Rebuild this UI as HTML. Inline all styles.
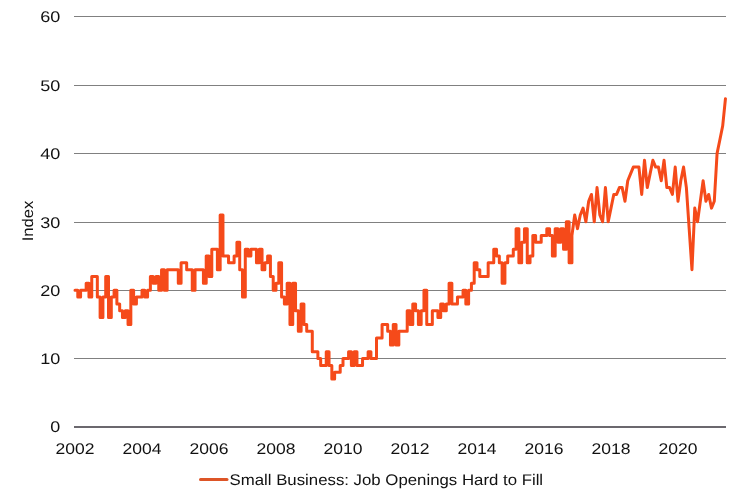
<!DOCTYPE html>
<html><head><meta charset="utf-8"><style>
html,body{margin:0;padding:0;background:#fff;width:740px;height:501px;overflow:hidden}
svg{display:block}
.t{font-family:"Liberation Sans",sans-serif;font-size:15.4px;fill:#111;text-rendering:geometricPrecision}
svg{will-change:transform}
</style></head><body>
<svg width="740" height="501" viewBox="0 0 740 501">
<rect x="74" y="16" width="652" height="1" fill="#808080"/>
<rect x="74" y="85" width="652" height="1" fill="#808080"/>
<rect x="74" y="153" width="652" height="1" fill="#808080"/>
<rect x="74" y="222" width="652" height="1" fill="#808080"/>
<rect x="74" y="290" width="652" height="1" fill="#808080"/>
<rect x="74" y="358" width="652" height="1" fill="#808080"/>
<rect x="74" y="426" width="652" height="2" fill="#6b686e"/>
<text x="60.3" y="21.9" text-anchor="end" textLength="20.1" lengthAdjust="spacingAndGlyphs" class="t">60</text>
<text x="60.3" y="90.9" text-anchor="end" textLength="20.1" lengthAdjust="spacingAndGlyphs" class="t">50</text>
<text x="60.3" y="158.9" text-anchor="end" textLength="20.1" lengthAdjust="spacingAndGlyphs" class="t">40</text>
<text x="60.3" y="227.9" text-anchor="end" textLength="20.1" lengthAdjust="spacingAndGlyphs" class="t">30</text>
<text x="60.3" y="295.9" text-anchor="end" textLength="20.1" lengthAdjust="spacingAndGlyphs" class="t">20</text>
<text x="60.3" y="363.9" text-anchor="end" textLength="20.1" lengthAdjust="spacingAndGlyphs" class="t">10</text>
<text x="60.3" y="432.4" text-anchor="end" textLength="10.0" lengthAdjust="spacingAndGlyphs" class="t">0</text>
<text x="75" y="453.8" text-anchor="middle" textLength="39" lengthAdjust="spacingAndGlyphs" class="t">2002</text>
<text x="142" y="453.8" text-anchor="middle" textLength="39" lengthAdjust="spacingAndGlyphs" class="t">2004</text>
<text x="209" y="453.8" text-anchor="middle" textLength="39" lengthAdjust="spacingAndGlyphs" class="t">2006</text>
<text x="276" y="453.8" text-anchor="middle" textLength="39" lengthAdjust="spacingAndGlyphs" class="t">2008</text>
<text x="343" y="453.8" text-anchor="middle" textLength="39" lengthAdjust="spacingAndGlyphs" class="t">2010</text>
<text x="410" y="453.8" text-anchor="middle" textLength="39" lengthAdjust="spacingAndGlyphs" class="t">2012</text>
<text x="477" y="453.8" text-anchor="middle" textLength="39" lengthAdjust="spacingAndGlyphs" class="t">2014</text>
<text x="544" y="453.8" text-anchor="middle" textLength="39" lengthAdjust="spacingAndGlyphs" class="t">2016</text>
<text x="611" y="453.8" text-anchor="middle" textLength="39" lengthAdjust="spacingAndGlyphs" class="t">2018</text>
<text x="678" y="453.8" text-anchor="middle" textLength="39" lengthAdjust="spacingAndGlyphs" class="t">2020</text>
<text transform="translate(33,221) rotate(-90)" text-anchor="middle" textLength="40.6" lengthAdjust="spacingAndGlyphs" class="t">Index</text>
<path d="M75.00,290.20 L77.79,290.20 L77.79,297.04 L80.58,297.04 L80.58,290.20 L83.38,290.20 L86.17,290.20 L86.17,283.36 L88.96,283.36 L88.96,297.04 L91.75,297.04 L91.75,276.52 L94.54,276.52 L97.33,276.52 L97.33,297.04 L100.12,297.04 L100.12,317.56 L102.92,317.56 L102.92,297.04 L105.71,297.04 L105.71,276.52 L108.50,276.52 L108.50,317.56 L111.29,317.56 L111.29,297.04 L114.08,297.04 L114.08,290.20 L116.88,290.20 L116.88,303.88 L119.67,303.88 L119.67,310.72 L122.46,310.72 L122.46,317.56 L125.25,317.56 L125.25,310.72 L128.04,310.72 L128.04,324.40 L130.83,324.40 L130.83,290.20 L133.62,290.20 L133.62,303.88 L136.42,303.88 L136.42,297.04 L139.21,297.04 L142.00,297.04 L142.00,290.20 L144.79,290.20 L144.79,297.04 L147.58,297.04 L147.58,290.20 L150.38,290.20 L150.38,276.52 L153.17,276.52 L153.17,283.36 L155.96,283.36 L155.96,276.52 L158.75,276.52 L158.75,290.20 L161.54,290.20 L161.54,269.68 L164.33,269.68 L164.33,290.20 L167.12,290.20 L167.12,269.68 L169.92,269.68 L172.71,269.68 L175.50,269.68 L178.29,269.68 L178.29,283.36 L181.08,283.36 L181.08,262.84 L183.88,262.84 L186.67,262.84 L186.67,269.68 L189.46,269.68 L192.25,269.68 L192.25,290.20 L195.04,290.20 L195.04,269.68 L197.83,269.68 L200.62,269.68 L203.42,269.68 L203.42,283.36 L206.21,283.36 L206.21,256.00 L209.00,256.00 L209.00,276.52 L211.79,276.52 L211.79,249.16 L214.58,249.16 L217.38,249.16 L217.38,269.68 L220.17,269.68 L220.17,214.96 L222.96,214.96 L222.96,256.00 L225.75,256.00 L228.54,256.00 L228.54,262.84 L231.33,262.84 L234.12,262.84 L234.12,256.00 L236.92,256.00 L236.92,242.32 L239.71,242.32 L239.71,269.68 L242.50,269.68 L242.50,297.04 L245.29,297.04 L245.29,249.16 L248.08,249.16 L248.08,256.00 L250.88,256.00 L250.88,249.16 L253.67,249.16 L256.46,249.16 L256.46,262.84 L259.25,262.84 L259.25,249.16 L262.04,249.16 L262.04,269.68 L264.83,269.68 L264.83,262.84 L267.62,262.84 L267.62,256.00 L270.42,256.00 L270.42,276.52 L273.21,276.52 L273.21,290.20 L276.00,290.20 L276.00,283.36 L278.79,283.36 L278.79,262.84 L281.58,262.84 L281.58,297.04 L284.38,297.04 L284.38,303.88 L287.17,303.88 L287.17,283.36 L289.96,283.36 L289.96,324.40 L292.75,324.40 L292.75,283.36 L295.54,283.36 L295.54,310.72 L298.33,310.72 L298.33,331.24 L301.12,331.24 L301.12,303.88 L303.92,303.88 L303.92,324.40 L306.71,324.40 L306.71,331.24 L309.50,331.24 L312.29,331.24 L312.29,351.76 L315.08,351.76 L317.88,351.76 L317.88,358.60 L320.67,358.60 L320.67,365.44 L323.46,365.44 L326.25,365.44 L326.25,351.76 L329.04,351.76 L329.04,365.44 L331.83,365.44 L331.83,379.12 L334.62,379.12 L334.62,372.28 L337.42,372.28 L340.21,372.28 L340.21,365.44 L343.00,365.44 L343.00,358.60 L345.79,358.60 L348.58,358.60 L348.58,351.76 L351.38,351.76 L351.38,365.44 L354.17,365.44 L354.17,351.76 L356.96,351.76 L356.96,365.44 L359.75,365.44 L362.54,365.44 L362.54,358.60 L365.33,358.60 L368.12,358.60 L368.12,351.76 L370.92,351.76 L370.92,358.60 L373.71,358.60 L376.50,358.60 L376.50,338.08 L379.29,338.08 L382.08,338.08 L382.08,324.40 L384.88,324.40 L387.67,324.40 L387.67,331.24 L390.46,331.24 L390.46,344.92 L393.25,344.92 L393.25,324.40 L396.04,324.40 L396.04,344.92 L398.83,344.92 L398.83,331.24 L401.62,331.24 L404.42,331.24 L407.21,331.24 L407.21,310.72 L410.00,310.72 L410.00,324.40 L412.79,324.40 L412.79,303.88 L415.58,303.88 L415.58,310.72 L418.38,310.72 L418.38,324.40 L421.17,324.40 L421.17,310.72 L423.96,310.72 L423.96,290.20 L426.75,290.20 L426.75,324.40 L429.54,324.40 L432.33,324.40 L432.33,310.72 L435.12,310.72 L437.92,310.72 L437.92,317.56 L440.71,317.56 L440.71,303.88 L443.50,303.88 L443.50,310.72 L446.29,310.72 L446.29,303.88 L449.08,303.88 L449.08,283.36 L451.88,283.36 L451.88,303.88 L454.67,303.88 L457.46,303.88 L457.46,297.04 L460.25,297.04 L463.04,297.04 L463.04,290.20 L465.83,290.20 L465.83,303.88 L468.62,303.88 L468.62,290.20 L471.42,290.20 L471.42,283.36 L474.21,283.36 L474.21,262.84 L477.00,262.84 L477.00,269.68 L479.79,269.68 L479.79,276.52 L482.58,276.52 L485.38,276.52 L488.17,276.52 L488.17,262.84 L490.96,262.84 L493.75,262.84 L493.75,249.16 L496.54,249.16 L496.54,256.00 L499.33,256.00 L499.33,262.84 L502.12,262.84 L502.12,283.36 L504.92,283.36 L504.92,262.84 L507.71,262.84 L507.71,256.00 L510.50,256.00 L513.29,256.00 L513.29,249.16 L516.08,249.16 L516.08,228.64 L518.88,228.64 L518.88,262.84 L521.67,262.84 L521.67,242.32 L524.46,242.32 L524.46,228.64 L527.25,228.64 L527.25,262.84 L530.04,262.84 L530.04,256.00 L532.83,256.00 L532.83,235.48 L535.62,235.48 L535.62,242.32 L538.42,242.32 L541.21,242.32 L541.21,235.48 L544.00,235.48 L546.79,235.48 L546.79,228.64 L549.58,228.64 L549.58,235.48 L552.38,235.48 L552.38,256.00 L555.17,256.00 L555.17,228.64 L557.96,228.64 L557.96,242.32 L560.75,242.32 L560.75,228.64 L563.54,228.64 L563.54,249.16 L566.33,249.16 L566.33,221.80 L569.12,221.80 L569.12,262.84 L571.92,262.84 L571.92,235.48 L574.71,214.96 L577.50,228.64 L580.29,214.96 L583.08,208.12 L585.88,221.80 L588.67,201.28 L591.46,194.44 L594.25,221.80 L597.04,187.60 L599.83,214.96 L602.62,221.80 L605.42,187.60 L608.21,221.80 L611.00,208.12 L613.79,194.44 L616.58,194.44 L619.38,187.60 L622.17,187.60 L624.96,201.28 L627.75,180.76 L630.54,173.92 L633.33,167.08 L636.12,167.08 L638.92,167.08 L641.71,194.44 L644.50,160.24 L647.29,187.60 L650.08,173.92 L652.88,160.24 L655.67,167.08 L658.46,167.08 L661.25,180.76 L664.04,160.24 L666.83,187.60 L669.62,187.60 L672.42,194.44 L675.21,167.08 L678.00,201.28 L680.79,180.76 L683.58,167.08 L686.38,187.60 L689.17,228.64 L691.96,269.68 L694.75,208.12 L697.54,221.80 L700.33,201.28 L703.12,180.76 L705.92,201.28 L708.71,194.44 L711.50,208.12 L714.29,201.28 L717.08,153.40 L719.88,139.72 L722.67,126.04 L725.46,98.68" fill="none" stroke="#f54a1a" stroke-width="3" stroke-linejoin="round" stroke-linecap="round"/>
<line x1="200.5" y1="479.4" x2="227" y2="479.4" stroke="#dd5527" stroke-width="3" stroke-linecap="round"/>
<text x="229.5" y="484.7" textLength="313.6" lengthAdjust="spacingAndGlyphs" class="t">Small Business: Job Openings Hard to Fill</text>
</svg>
</body></html>
